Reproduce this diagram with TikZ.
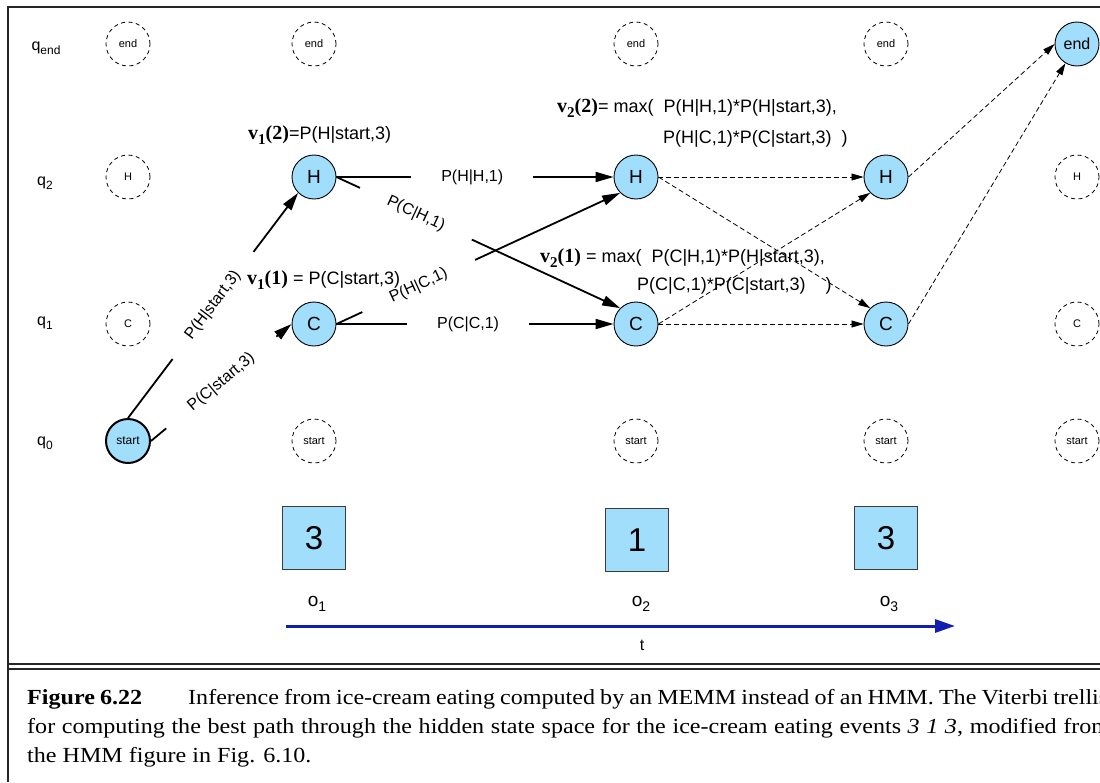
\documentclass[tikz,border=0pt]{standalone}
\usepackage{fontspec}
\setmainfont{Liberation Serif}
\setsansfont{Liberation Sans}
\newfontfamily\capfont[FakeStretch=1.12]{Liberation Serif}
\usetikzlibrary{arrows.meta,positioning,calc}
\definecolor{stateblue}{RGB}{160,222,252}
\definecolor{timeblue}{RGB}{18,30,176}
\definecolor{boxedge}{RGB}{60,60,60}
\newcommand{\fsz}[1]{\fontsize{#1}{#1}\selectfont}
\newcommand{\dropsub}[3]{\raisebox{-#2pt}{\fsz{#1}#3}}
\newcommand{\vsym}[2]{{\rmfamily\bfseries\fsz{20}v\dropsub{15}{5}{#1}(#2)}}
\tikzset{
  live/.style={circle, draw, fill=stateblue, line width=0.9pt, minimum size=44pt,
               inner sep=0pt, font=\sffamily\fsz{19}},
  ghost/.style={circle, draw, dash pattern=on 4pt off 3.5pt, line width=0.8pt,
                minimum size=44pt, inner sep=0pt, font=\sffamily\fsz{11}},
  qlabel/.style={anchor=base, inner sep=0pt, font=\sffamily\fsz{16}},
  obsbox/.style={draw=boxedge, fill=stateblue, line width=0.8pt, minimum width=63pt,
                 minimum height=63pt, inner sep=0pt, font=\sffamily\fsz{33}},
  olabel/.style={anchor=base, inner sep=0pt, font=\sffamily\fsz{19}},
  trans/.style={-{Triangle[length=18pt,width=10pt]}, line width=1.8pt},
  viterbi/.style={-{Triangle[length=12pt,width=7pt]}, line width=0.8pt,
                  dash pattern=on 5pt off 3pt},
  plab/.style={fill=white, inner sep=0pt, align=center, font=\sffamily\fsz{16}},
  vlab/.style={anchor=base west, inner sep=0pt, font=\sffamily\fsz{18}},
  timeline/.style={-{Triangle[length=20pt,width=13pt]}, line width=3pt, draw=timeblue},
  borderline/.style={line width=2pt, draw=black!85},
  caption/.style={anchor=base west, inner sep=0pt, font=\capfont\fsz{21.5}},
}
\begin{document}
\begin{tikzpicture}[x=1pt, y=-1pt]
  \useasboundingbox (0,0) rectangle (1100,782);
  \clip (0,0) rectangle (1100,782);
  % frame and rules
  \draw[borderline] (8,782) -- (8,7) -- (1100,7);
  \draw[borderline] (8,664) -- (1100,664);
  \draw[borderline] (8,669) -- (1100,669);

  % row labels
  \node[qlabel] (qend) at (46,50) {q\dropsub{12}{4}{end}};
  \node[qlabel] (q2) at (45,185) {q\dropsub{12}{4}{2}};
  \node[qlabel] (q1) at (45,325) {q\dropsub{12}{4}{1}};
  \node[qlabel] (q0) at (45,445) {q\dropsub{12}{4}{0}};

  % unused states
  \foreach \nm/\x/\y/\txt in {e0/128/44/end, h0/128/177/H, c0/128/324/C,
      e1/314/44/end, s1/314/441/start, e2/636/44/end, s2/636/441/start,
      e3/886/44/end, s3/886/441/start, h4/1077/177/H, c4/1077/324/C, s4/1077/441/start}
    \node[ghost] (\nm) at (\x,\y) {\txt};

  % states on the trellis
  \node[live, line width=2pt, font=\sffamily\fsz{12}] (s0) at (128,441) {start};
  \node[live] (h1) at (314,177) {H};
  \node[live] (c1) at (314,324) {C};
  \node[live] (h2) at (636,177) {H};
  \node[live] (c2) at (636,324) {C};
  \node[live] (h3) at (886,177) {H};
  \node[live] (c3) at (886,324) {C};
  \node[live, font=\sffamily\fsz{16}] (e4) at (1077,44) {end};

  % MEMM transitions
  \draw[trans] (s0.north) -- node[plab, sloped, pos=0.5, minimum width=134pt] (phs) {P(H|start,3)} (h1.south west);
  \draw[trans] (s0.east) -- node[plab, sloped, pos=0.5, minimum width=143pt] (pcs) {P(C|start,3)} (c1.west);
  \draw[trans] (h1.east) -- node[plab, pos=0.49, minimum width=122pt] (phh) {P(H|H,1)} (h2.west);
  \draw[trans] (c1.east) -- node[plab, pos=0.475, minimum width=122pt] (pcc) {P(C|C,1)} (c2.west);
  \draw[trans] (h1.east) -- node[plab, sloped, pos=0.28, minimum width=123pt] (pch) {P(C|H,1)} (c2.north west);
  \draw[trans] (c1.east) -- node[plab, sloped, pos=0.29, minimum width=124pt] (phc) {P(H|C,1)} (h2.south west);

  % later steps
  \draw[viterbi] (h2.east) -- (h3.west);
  \draw[viterbi] (h2.east) -- (c3.north west);
  \draw[viterbi] (c2.east) -- (h3.south west);
  \draw[viterbi] (c2.east) -- (c3.west);
  \draw[viterbi] (h3.east) -- (e4.west);
  \draw[viterbi] (c3.east) -- (e4);

  % viterbi values
  \node[vlab] (v12) at (248,139) {\vsym{1}{2}=P(H|start,3)};
  \node[vlab] (v11) at (247,284) {\vsym{1}{1} = P(C|start,3)};
  \node[vlab] (v22a) at (557,112) {\vsym{2}{2}= max(\ \ P(H|H,1)*P(H|start,3),};
  \node[vlab] (v22b) at (663,143) {P(H|C,1)*P(C|start,3)\ \ )};
  \node[vlab] (v21a) at (540,262) {\vsym{2}{1} = max(\ \ P(C|H,1)*P(H|start,3),};
  \node[vlab] (v21b) at (637,290) {P(C|C,1)*P(C|start,3)\ \ \ \ )};

  % observations
  \node[obsbox] (obs1) at (314,538) {3};
  \node[obsbox] (obs2) at (637,540) {1};
  \node[obsbox] (obs3) at (886,538) {3};
  \node[olabel] (o1) at (317,606) {o\dropsub{14}{5}{1}};
  \node[olabel] (o2) at (641,606) {o\dropsub{14}{5}{2}};
  \node[olabel] (o3) at (889,606) {o\dropsub{14}{5}{3}};
  \coordinate (t0) at (286,626);
  \coordinate (t1) at (955,626);
  \draw[timeline] (t0) -- (t1);
  \node[qlabel] (tlab) at (642,650) {t};

  % caption
  \node[caption] (cap1) at (27,704) {\makebox[1081pt][s]{\textbf{Figure 6.22}\hspace{46pt}Inference from ice-cream eating computed by an MEMM instead of an HMM. The Viterbi trellis}};
  \node[caption] (cap2) at (27,733) {\makebox[1083pt][s]{for computing the best path through the hidden state space for the ice-cream eating events \textit{3 1 3}, modified from}};
  \node[caption] (cap3) at (27,762) {the HMM figure in Fig. 6.10.};
\end{tikzpicture}
\end{document}
